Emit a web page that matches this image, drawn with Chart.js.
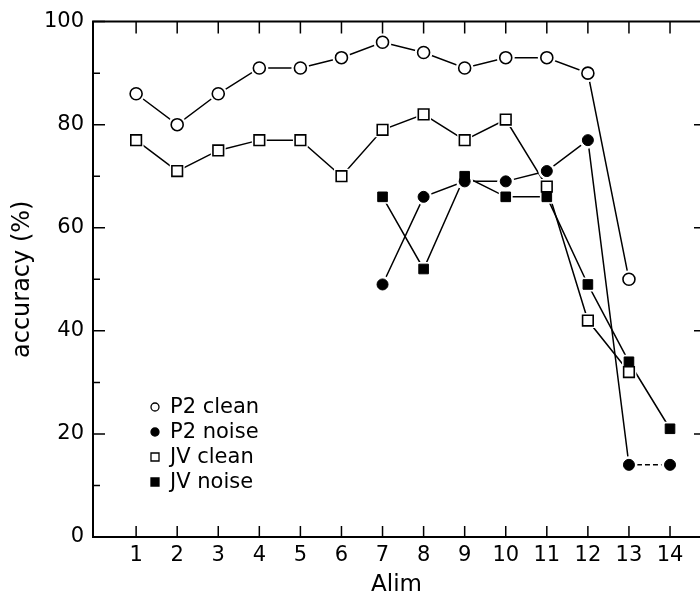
<!DOCTYPE html>
<html>
<head>
<meta charset="utf-8">
<script src="https://cdn.jsdelivr.net/npm/chart.js@4"></script>
<style>
  body { margin: 0; background: #fff; }
</style>
</head>
<body>
<canvas id="accChart" width="700" height="599"></canvas>
<script>
// values
var alim = [1, 2, 3, 4, 5, 6, 7, 8, 9, 10, 11, 12, 13, 14];
var p2Clean = [86, 80, 86, 91, 91, 93, 96, 94, 91, 93, 93, 90, 50, null];
var p2Noise = [null, null, null, null, null, null, 49, 66, 69, 69, 71, 77, 14, 14];
var jvClean = [77, 71, 75, 77, 77, 70, 79, 82, 77, 81, 68, 42, 32, null];
var jvNoise = [null, null, null, null, null, null, 66, 52, 70, 66, 66, 49, 34, 21];
var yTicks = [0, 20, 40, 60, 80, 100];
var yMinor = [10, 30, 50, 70, 90];

Chart.defaults.font.family = "'DejaVu Sans', sans-serif";
Chart.defaults.color = '#000';

var series = [
    { label: 'P2 clean', values: p2Clean, shape: 'circle', filled: false, r: 6 },
    { label: 'P2 noise', values: p2Noise, shape: 'circle', filled: true, r: 5.5 },
    { label: 'JV clean', values: jvClean, shape: 'rect', filled: false, r: 7.5 },
    { label: 'JV noise', values: jvNoise, shape: 'rect', filled: true, r: 6.8 }
];

function toPoints(values) {
    return alim.map(function (a, i) { return { x: a, y: values[i] }; })
        .filter(function (p) { return p.y !== null; });
}

// each series = line (back), white halo (gap round markers), marker (front)
var datasets = [];
series.forEach(function (s) {
    datasets.push({
        label: s.label,
        data: toPoints(s.values),
        borderColor: '#000',
        borderWidth: 1.5,
        pointRadius: 0,
        order: 3,
        segment: {
            borderDash: function (c) {
                return (s.label === 'P2 noise' && c.p0.parsed.x === 13) ? [5, 3] : undefined;
            }
        }
    });
    datasets.push({
        data: toPoints(s.values),
        showLine: false,
        pointStyle: s.shape,
        pointRadius: s.r + 3,
        pointBackgroundColor: '#fff',
        pointBorderWidth: 0,
        order: 2
    });
    datasets.push({
        data: toPoints(s.values),
        showLine: false,
        pointStyle: s.shape,
        pointRadius: s.r,
        pointBackgroundColor: s.filled ? '#000' : '#fff',
        pointBorderColor: '#000',
        pointBorderWidth: s.filled ? 1 : 1.6,
        order: 1
    });
});

// box, inward ticks and the inset legend
var framePlugin = {
    id: 'frame',
    afterDraw: function (chart) {
        var ctx = chart.ctx, a = chart.chartArea;
        var x = chart.scales.x, y = chart.scales.y;
        ctx.save();
        ctx.strokeStyle = '#000';
        ctx.lineWidth = 2;
        ctx.beginPath();
        ctx.moveTo(a.right, a.top);
        ctx.lineTo(a.left, a.top);
        ctx.lineTo(a.left, a.bottom);
        ctx.lineTo(a.right, a.bottom);
        ctx.stroke();

        ctx.lineWidth = 1.5;
        ctx.beginPath();
        alim.forEach(function (v) {
            var px = x.getPixelForValue(v);
            ctx.moveTo(px, a.bottom); ctx.lineTo(px, a.bottom - 11);
            ctx.moveTo(px, a.top); ctx.lineTo(px, a.top + 12);
        });
        yTicks.forEach(function (v) {
            var py = y.getPixelForValue(v);
            ctx.moveTo(a.left, py); ctx.lineTo(a.left + 12, py);
            if (v > 0 && v < 100) { ctx.moveTo(a.right - 6, py); ctx.lineTo(a.right, py); }
        });
        yMinor.forEach(function (v) {
            var py = y.getPixelForValue(v);
            ctx.moveTo(a.left, py); ctx.lineTo(a.left + 7, py);
        });
        ctx.stroke();

        // legend
        ctx.font = "21px 'DejaVu Sans', sans-serif";
        ctx.textBaseline = 'middle';
        series.forEach(function (s, i) {
            var ly = 407 + i * 25, lx = 155;
            ctx.beginPath();
            if (s.shape === 'circle') {
                ctx.arc(lx, ly, 4, 0, Math.PI * 2);
            } else {
                ctx.rect(lx - 4, ly - 4, 8, 8);
            }
            ctx.fillStyle = s.filled ? '#000' : '#fff';
            ctx.fill();
            ctx.lineWidth = 1.3;
            ctx.stroke();
            ctx.fillStyle = '#000';
            ctx.fillText(s.label, 170, ly + 1);
        });
        ctx.restore();
    }
};

var ctx = document.getElementById('accChart').getContext('2d');
var accChart = new Chart(ctx, {
    type: 'line',
    data: { datasets: datasets },
    plugins: [framePlugin],
    options: {
        responsive: false,
        devicePixelRatio: 1,
        animation: false,
        layout: { autoPadding: false, padding: { top: 20, right: 0, bottom: 0, left: 0 } },
        plugins: {
            legend: { display: false },
            tooltip: { enabled: false }
        },
        scales: {
            x: {
                type: 'linear',
                min: -0.05,
                max: 14.73,
                afterBuildTicks: function (scale) {
                    scale.ticks = alim.map(function (v) { return { value: v }; });
                },
                afterFit: function (scale) { scale.height = 62; },
                grid: { display: false, drawTicks: false },
                border: { display: false },
                ticks: { autoSkip: false, maxRotation: 0, padding: 6, font: { size: 21 } },
                title: { display: true, text: 'Alim', font: { size: 23 }, padding: { top: 0, bottom: 0 } }
            },
            y: {
                min: 0,
                max: 100,
                afterBuildTicks: function (scale) {
                    scale.ticks = yTicks.map(function (v) { return { value: v }; });
                },
                afterFit: function (scale) { scale.width = 93; },
                grid: { display: false, drawTicks: false },
                border: { display: false },
                ticks: { padding: 9, font: { size: 21 } },
                title: { display: true, text: 'accuracy (%)', font: { size: 24 }, padding: { top: 8, bottom: 0 } }
            }
        }
    }
});
</script>
</body>
</html>
